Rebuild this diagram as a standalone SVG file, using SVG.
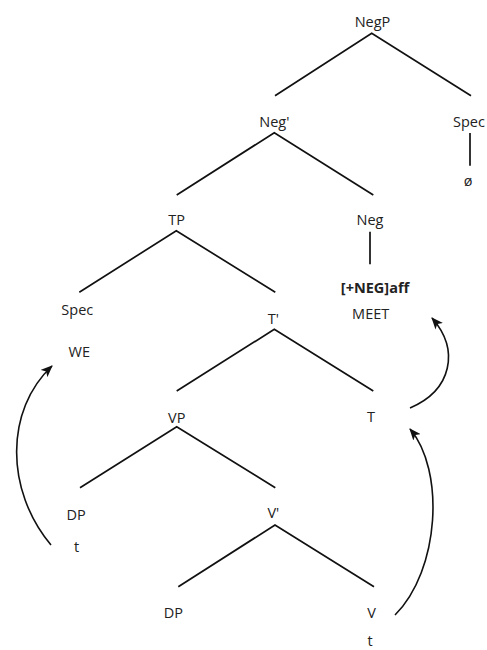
<svg xmlns="http://www.w3.org/2000/svg" width="487" height="650" viewBox="0 0 487 650">
<defs>
<style>
text{font-family:"Open Sans","Liberation Sans",sans-serif;font-size:14.5px;fill:#222;text-anchor:middle}
.b{font-weight:bold}
.e{stroke:#111;stroke-width:1.7;fill:none}
.m{stroke:#111;stroke-width:1.6;fill:none;marker-end:url(#ah)}
</style>
<marker id="ah" viewBox="0 0 12 10" refX="11" refY="5" markerWidth="12" markerHeight="10" markerUnits="userSpaceOnUse" orient="auto">
<path d="M0 0 L12 5 L0 10 L3 5 Z" fill="#111"/>
</marker>
</defs>
<rect width="487" height="650" fill="#fff"/>
<g id="connectors">
<path class="e" d="M275 95.7 L371.7 33.3 L471 95.7"/>
<path class="e" d="M470 133 V165.7"/>
<path class="e" d="M176.7 195 L274.3 132.7 L373.3 195"/>
<path class="e" d="M370 231.7 V264.3"/>
<path class="e" d="M79.3 292.3 L176.3 230.7 L275.3 292.3"/>
<path class="e" d="M176.7 391 L274.3 329.3 L373.3 391"/>
<path class="e" d="M80 487.7 L176.7 426.7 L275.3 487.7"/>
<path class="e" d="M178.3 586.7 L275 525 L374 586.7"/>
<path class="m" d="M51 545 C5 490 5 410 52 366"/>
<path class="m" d="M395 615 C440 570 445 470 410 429"/>
<path class="m" d="M410 408 C452 390 460 350 432 318"/>
</g>
<g id="negp"><text x="372.5" y="27">NegP</text></g>
<g id="negbar"><text x="274.3" y="127">Neg'</text></g>
<g id="spec-neg"><text x="469" y="127">Spec</text><text x="468" y="186">ø</text></g>
<g id="tp"><text x="176.7" y="225">TP</text></g>
<g id="neg"><text x="370" y="225">Neg</text><text class="b" x="375" y="293">[+NEG]aff</text><text x="370.7" y="319">MEET</text></g>
<g id="spec-t"><text x="77.3" y="315">Spec</text><text x="79.3" y="357">WE</text></g>
<g id="tbar"><text x="273.3" y="324">T'</text></g>
<g id="t"><text x="371" y="421.7">T</text></g>
<g id="vp"><text x="176.7" y="423.3">VP</text></g>
<g id="dp1"><text x="76" y="520">DP</text><text x="76.7" y="551.7">t</text></g>
<g id="vbar"><text x="273.3" y="518.3">V'</text></g>
<g id="dp2"><text x="173.3" y="618.3">DP</text></g>
<g id="v"><text x="371.7" y="618.3">V</text><text x="370" y="645.5">t</text></g>
</svg>
